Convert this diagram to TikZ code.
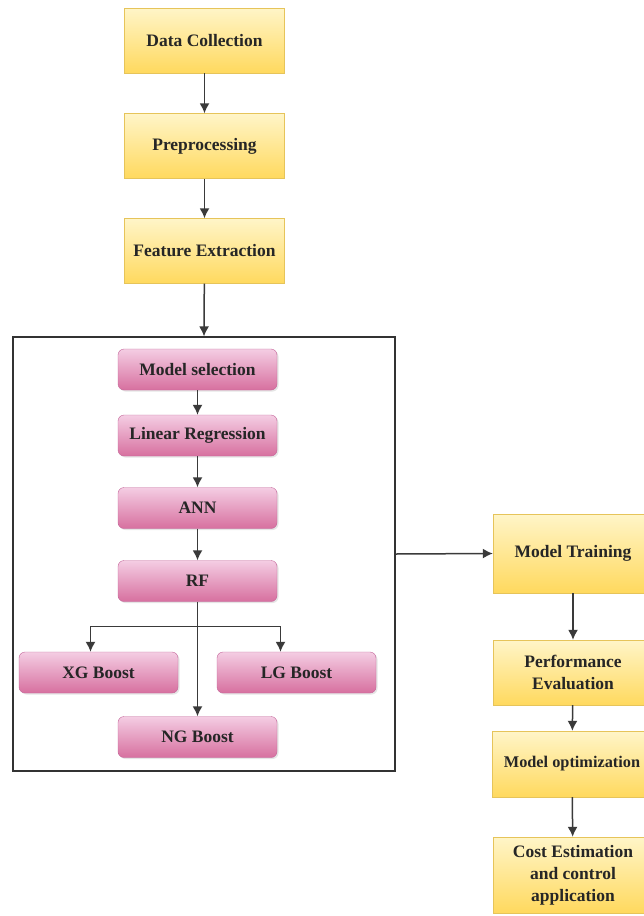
\documentclass[tikz,border=0pt]{standalone}
\usepackage{fontspec}
\setmainfont{Liberation Serif}
\usepackage{tikz}
\usetikzlibrary{shadows,arrows.meta}

\definecolor{yeltop}{HTML}{FFF5C8}
\definecolor{yelbot}{HTML}{FFD95E}
\definecolor{yeledge}{HTML}{E6C45A}
\definecolor{pnktop}{HTML}{F4CDE3}
\definecolor{pnkbot}{HTML}{D7709F}
\definecolor{pnkedge}{HTML}{C4669A}
\definecolor{lineclr}{HTML}{3A3A3A}

\tikzset{
  yellowbox/.style={draw=yeledge, top color=yeltop, bottom color=yelbot,
    minimum width=160pt, inner sep=0pt, align=center, text=black!85,
    font=\fontsize{17.5}{22}\selectfont\bfseries},
  pinkbox/.style={draw=pnkedge, top color=pnktop, bottom color=pnkbot,
    rounded corners=6pt, minimum width=159pt, minimum height=41pt, inner sep=0pt,
    text=black!85, font=\fontsize{17.5}{22}\selectfont\bfseries,
    drop shadow={opacity=0.2, shadow xshift=1.5pt, shadow yshift=-1.5pt}},
  arr/.style={->, draw=lineclr, line width=1.5pt}
}

\begin{document}
\begin{tikzpicture}[x=1pt, y=-1pt, >={Latex[length=10pt,width=10pt]}]
\useasboundingbox[fill=white] (0,0) rectangle (643,916);

% left column
\node[yellowbox, minimum height=65pt] (dc) at (204.5,40.5) {Data Collection};
\node[yellowbox, minimum height=65pt] (pre) at (204.5,146) {Preprocessing};
\node[yellowbox, minimum height=65pt] (fe) at (204.5,251) {Feature Extraction};

% model block
\node[draw=black!80, line width=1.2pt, minimum width=382pt, minimum height=434pt, inner sep=0pt] (frame) at (204,554) {};
\node[pinkbox] (ms) at (197.5,369.5) {Model selection};
\node[pinkbox] (lr) at (197.5,435.5) {Linear Regression};
\node[pinkbox] (ann) at (197.5,508) {ANN};
\node[pinkbox] (rf) at (197.5,581) {RF};
\node[pinkbox] (xg) at (98.5,672.5) {XG Boost};
\node[pinkbox] (lg) at (296.5,672.5) {LG Boost};
\node[pinkbox] (ng) at (197.5,737) {NG Boost};

% right column
\node[yellowbox, minimum height=79pt] (mt) at (573,553.5) {Model Training};
\node[yellowbox, minimum height=65pt] (pe) at (573,672.5) {Performance\\Evaluation};
\node[yellowbox, minimum height=66pt, font=\fontsize{16.3}{20}\selectfont\bfseries] (mo) at (572,764) {Model optimization};
\node[yellowbox, minimum height=76pt] (ce) at (573,875) {Cost Estimation\\and control\\application};

% arrows
\draw[arr] (dc) -- (pre);
\draw[arr] (pre) -- (fe);
\draw[arr] (fe) -- (frame.north);
\draw[arr] (ms) -- (lr);
\draw[arr] (lr) -- (ann);
\draw[arr] (ann) -- (rf);
\draw[arr] (rf) -- (ng);
\draw[arr] ([yshift=-25pt]rf.south) -| ([xshift=-8pt]xg.north);
\draw[arr] ([yshift=-25pt]rf.south) -| ([xshift=-16pt]lg.north);
\draw[arr] (frame.east) -- (mt.west);
\draw[arr] (mt) -- (pe);
\draw[arr] (pe) -- (mo);
\draw[arr] (mo) -- (ce);
\end{tikzpicture}
\end{document}
